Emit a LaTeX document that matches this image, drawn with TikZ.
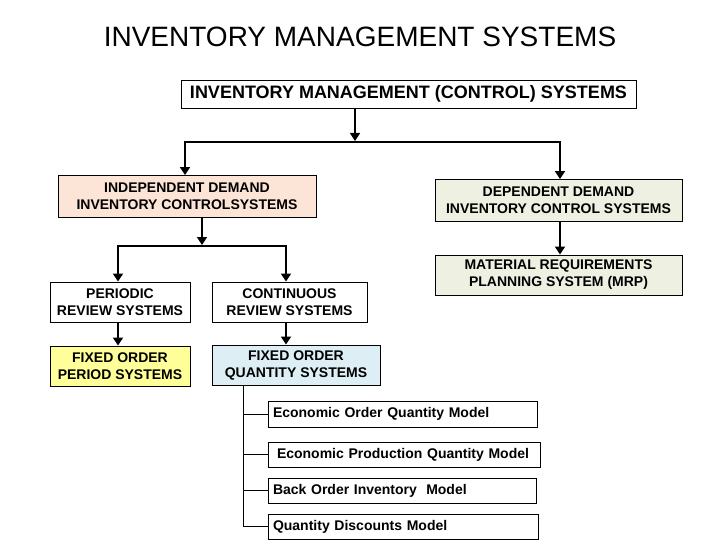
\documentclass[tikz,border=0pt]{standalone}
\usepackage{fontspec}
\setmainfont{Liberation Sans}
\usetikzlibrary{arrows.meta}
\definecolor{peach}{HTML}{FCE4D6}
\definecolor{sage}{HTML}{EEF0E2}
\definecolor{lyellow}{HTML}{FFFF99}
\definecolor{lblue}{HTML}{DDEEF5}
\tikzset{
  box/.style={draw=black, line width=0.9pt, inner sep=0pt, align=center,
    font=\fontsize{14}{17}\selectfont\bfseries},
  modelbox/.style={draw=black, line width=0.9pt, inner ysep=0pt, inner xsep=5pt, align=left,
    font=\fontsize{14}{17}\selectfont\bfseries},
  arr/.style={line width=1.6pt, -{Triangle[width=10pt,length=8pt]}},
  tree/.style={line width=0.9pt},
}
\begin{document}
\begin{tikzpicture}[x=1pt,y=-1pt]
\useasboundingbox (0,0) rectangle (720,540);
\node[font=\fontsize{28}{32}\selectfont] (title) at (360,37) {INVENTORY MANAGEMENT SYSTEMS};
\node[box, minimum width=455pt, minimum height=28pt, font=\fontsize{18}{20}\selectfont\bfseries] (top) at (408.5,94) {INVENTORY MANAGEMENT (CONTROL) SYSTEMS};
\node[box, fill=peach, minimum width=258pt, minimum height=42pt] (indep) at (187,196.5) {INDEPENDENT DEMAND\\INVENTORY CONTROLSYSTEMS};
\node[box, fill=sage, minimum width=247pt, minimum height=42pt] (dep) at (558.5,200.5) {DEPENDENT DEMAND\\INVENTORY CONTROL SYSTEMS};
\node[box, fill=sage, minimum width=247pt, minimum height=40pt] (mrp) at (558.5,275) {MATERIAL REQUIREMENTS\\PLANNING SYSTEM (MRP)};
\node[box, fill=white, minimum width=140pt, minimum height=40pt] (periodic) at (120,302) {PERIODIC\\REVIEW SYSTEMS};
\node[box, fill=white, minimum width=155pt, minimum height=40pt] (continuous) at (289.5,302) {CONTINUOUS\\REVIEW SYSTEMS};
\node[box, fill=lyellow, minimum width=140pt, minimum height=40pt] (fop) at (120,366) {FIXED ORDER\\PERIOD SYSTEMS};
\node[box, fill=lblue, minimum width=168pt, minimum height=40pt] (foq) at (296,365) {FIXED ORDER\\QUANTITY SYSTEMS};
\node[modelbox, text width=259pt, minimum height=26pt] (eoq) at (402.5,414) {Economic Order Quantity Model};
\node[modelbox, inner xsep=9pt, text width=254pt, minimum height=25pt] (epq) at (404,454.5) {Economic Production Quantity Model};
\node[modelbox, text width=258pt, minimum height=25pt] (bo) at (402,490.5) {Back Order Inventory\ \ Model};
\node[modelbox, text width=260pt, minimum height=25pt] (qd) at (403,526.5) {Quantity Discounts Model};
% connectors
\coordinate (j1) at (355,142);
\draw[arr] (j1 |- top.south) -- ([yshift=1pt]j1);
\draw[arr] (j1) -| ([xshift=-2pt]indep.north);
\draw[arr] (j1) -| ([xshift=1.5pt]dep.north);
\draw[arr] ([xshift=1.5pt]dep.south) -- ([xshift=1.5pt]mrp.north);
\coordinate (j2) at (202,246);
\draw[arr] (j2 |- indep.south) -- ([yshift=1pt]j2);
\draw[arr] (j2) -| ([xshift=-2pt]periodic.north);
\draw[arr] (j2) -| ([xshift=-3.5pt]continuous.north);
\draw[arr] ([xshift=-2pt]periodic.south) -- ([xshift=-2pt]fop.north);
\coordinate (c3) at ([xshift=-3.5pt]continuous.south);
\draw[arr] (c3) -- (c3 |- foq.north);
\coordinate (t) at (243,385);
\draw[tree] (t |- foq.south) -- (t |- qd.west) -- (qd.west);
\draw[tree] (t |- eoq.west) -- (eoq.west);
\draw[tree] (t |- epq.west) -- (epq.west);
\draw[tree] (t |- bo.west) -- (bo.west);
\end{tikzpicture}
\end{document}
